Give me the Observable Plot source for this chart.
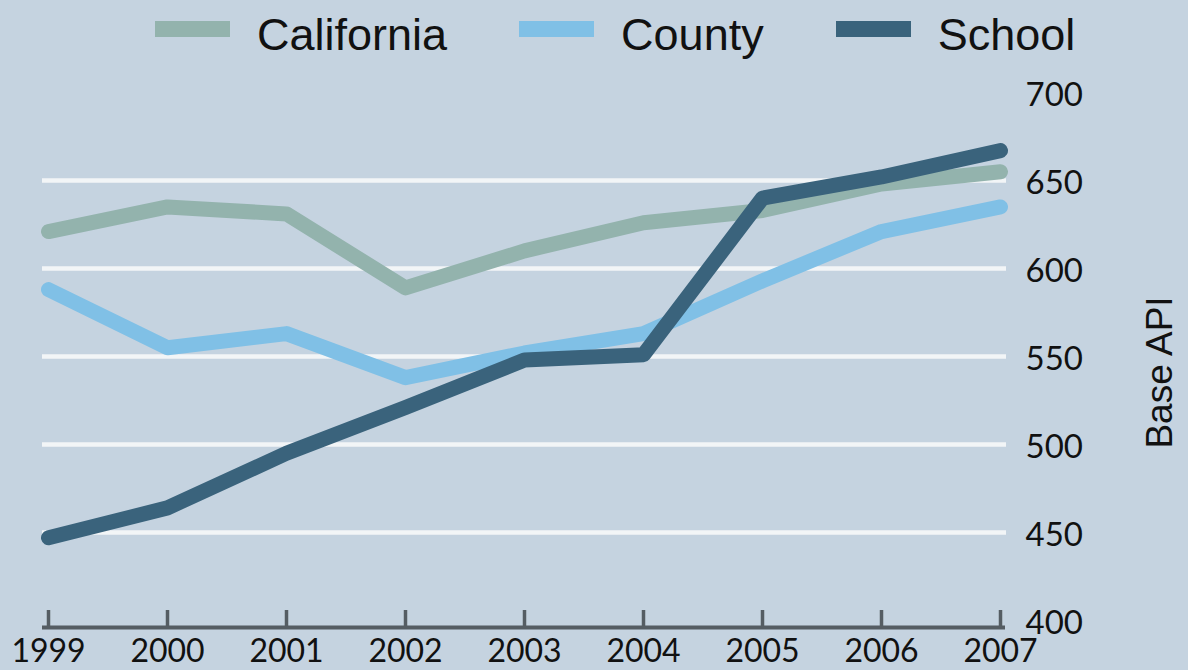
<!DOCTYPE html>
<html>
<head>
<meta charset="utf-8">
<script src="https://cdn.jsdelivr.net/npm/d3@7"></script>
<script src="https://cdn.jsdelivr.net/npm/@observablehq/plot@0.6"></script>
<style>
  html, body { margin: 0; padding: 0; background: #c5d3e0; width: 1188px; height: 670px; overflow: hidden; }
  #legend { display: flex; height: 70px; padding-left: 155px; box-sizing: border-box; font-family: "Liberation Sans", Arial, sans-serif; font-size: 45px; color: #111; }
  .item { display: flex; align-items: flex-start; margin-right: 72px; }
  .sw { width: 75px; height: 16px; margin-top: 21px; margin-right: 27px; }
  .lbl { line-height: 45px; margin-top: 12px; }
</style>
</head>
<body>
<div id="legend"></div>
<div id="chart"></div>
<script>
const years = [1999, 2000, 2001, 2002, 2003, 2004, 2005, 2006, 2007];
const seriesNames = ["California", "County", "School"];
const seriesColors = ["#93b3ad", "#80c0e6", "#3a637c"];
const california = [621, 635, 631, 589, 610, 626, 633, 648, 655];
const county = [588, 555, 563, 538, 552, 563, 593, 621, 635];
const school = [447, 464, 495, 521, 548, 551, 640, 652, 667];
const yTicks = [400, 450, 500, 550, 600, 650, 700];
const gridValues = [450, 500, 550, 600, 650];
const yLabel = "Base API";

const seriesValues = [california, county, school];
const data = [];
seriesNames.forEach((name, i) => {
  years.forEach((yr, j) => data.push({series: name, year: yr, value: seriesValues[i][j]}));
});

// legend
const legend = document.getElementById("legend");
seriesNames.forEach((name, i) => {
  const it = document.createElement("div");
  it.className = "item";
  const sw = document.createElement("div");
  sw.className = "sw";
  sw.style.background = seriesColors[i];
  const lb = document.createElement("div");
  lb.className = "lbl";
  lb.textContent = name;
  it.appendChild(sw); it.appendChild(lb);
  legend.appendChild(it);
});

const chart = Plot.plot({
  width: 1188,
  height: 600,
  marginTop: 22,
  marginBottom: 50,
  marginLeft: 48,
  marginRight: 188,
  style: {background: "#c5d3e0", fontFamily: "Lato, sans-serif", color: "#111"},
  x: {domain: [1999, 2007]},
  y: {domain: [400, 700]},
  color: {domain: seriesNames, range: seriesColors},
  marks: [
    Plot.ruleY(gridValues, {stroke: "#f2f5f7", strokeWidth: 4.5, insetLeft: -6, insetRight: -6}),
    Plot.ruleY([400], {stroke: "#555d63", strokeWidth: 4, dy: 7, insetLeft: -6, insetRight: -5}),
    Plot.ruleX(years, {y1: 400, y2: 400, insetTop: -17, dy: 7, stroke: "#555d63", strokeWidth: 3.5}),
    Plot.axisX({ticks: years, tickFormat: d => String(d), tickSize: 0, tickPadding: 19, fontSize: 32, label: null}),
    Plot.axisY({anchor: "right", ticks: yTicks, tickSize: 0, tickPadding: 25, fontSize: 33, dy: 3, label: null}),
    Plot.text([yLabel], {frameAnchor: "right", textAnchor: "middle", rotate: -90, dx: 160, dy: 16, fontSize: 37, fontFamily: "Liberation Sans, Arial, sans-serif", fill: "#111"}),
    Plot.line(data, {x: "year", y: "value", z: "series", stroke: "series", strokeWidth: 15, strokeLinecap: "round", strokeLinejoin: "round"})
  ]
});
document.getElementById("chart").appendChild(chart);
</script>
</body>
</html>
